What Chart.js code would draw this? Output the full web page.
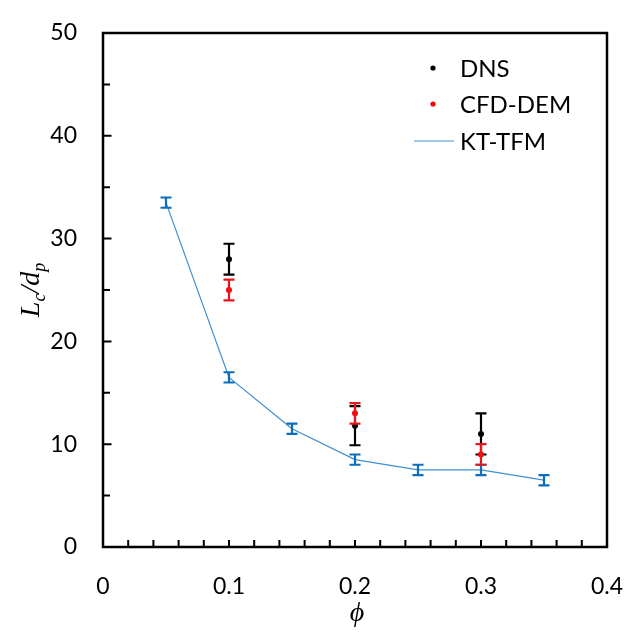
<!DOCTYPE html>
<html>
<head>
<meta charset="utf-8">
<script src="https://cdn.jsdelivr.net/npm/chart.js@4.4.1/dist/chart.umd.min.js"></script>
<style>
  html, body { margin: 0; padding: 0; background: #fff; }
  #wrap { width: 639px; height: 634px; }
</style>
</head>
<body>
<div id="wrap"><canvas id="myChart" width="639" height="634"></canvas></div>
<script>
// values
const phiKT = [0.05, 0.1, 0.15, 0.2, 0.25, 0.3, 0.35];
const lcKT  = [33.5, 16.5, 11.5, 8.5, 7.5, 7.5, 6.5];
const errKT = [0.5, 0.5, 0.5, 0.5, 0.5, 0.5, 0.5];

const phiDNS = [0.1, 0.2, 0.3];
const lcDNS  = [28, 11.8, 11];
const errDNS = [1.5, 1.9, 2];

const phiCFD = [0.1, 0.2, 0.3];
const lcCFD  = [25, 13, 9];
const errCFD = [1, 1, 1];

const xTicks = [0, 0.1, 0.2, 0.3, 0.4];
const yTicks = [0, 10, 20, 30, 40, 50];

const tickFont = { family: 'Lato', size: 23 };

function toPoints(xs, ys) {
    let pts = [];
    for (let i = 0; i < xs.length; i++) pts.push({ x: xs[i], y: ys[i] });
    return pts;
}

// error bars, drawn right after each dataset
const errorBars = {
    id: 'errorBars',
    afterDatasetDraw(chart, args) {
        const ds = chart.data.datasets[args.index];
        if (!ds.errors) return;
        const ctx = chart.ctx;
        const xs = chart.scales.x, ys = chart.scales.y;
        ctx.save();
        ctx.strokeStyle = ds.errorColor;
        ctx.lineWidth = 2.2;
        for (let i = 0; i < ds.data.length; i++) {
            const p = ds.data[i];
            const px = xs.getPixelForValue(p.x);
            const top = ys.getPixelForValue(p.y + ds.errors[i]);
            const bot = ys.getPixelForValue(p.y - ds.errors[i]);
            ctx.beginPath();
            ctx.moveTo(px, top); ctx.lineTo(px, bot);
            ctx.moveTo(px - 5.5, top); ctx.lineTo(px + 5.5, top);
            ctx.moveTo(px - 5.5, bot); ctx.lineTo(px + 5.5, bot);
            ctx.stroke();
        }
        ctx.restore();
    }
};

// frame, inward ticks, legend and axis titles
const decorations = {
    id: 'decorations',
    afterDraw(chart) {
        const ctx = chart.ctx;
        const a = chart.chartArea;
        const xs = chart.scales.x, ys = chart.scales.y;
        ctx.save();
        ctx.strokeStyle = '#000';
        ctx.lineWidth = 2.5;
        ctx.strokeRect(a.left, a.top, a.right - a.left, a.bottom - a.top);

        ctx.lineWidth = 2;
        ctx.beginPath();
        for (let v = 0.02; v < 0.399; v += 0.02) {
            const px = xs.getPixelForValue(v);
            ctx.moveTo(px, a.bottom); ctx.lineTo(px, a.bottom - 7);
        }
        for (let v = 5; v < 50; v += 5) {
            const py = ys.getPixelForValue(v);
            ctx.moveTo(a.left, py); ctx.lineTo(a.left + (v % 10 === 0 ? 8.5 : 7), py);
        }
        ctx.stroke();

        // legend
        const items = chart.data.datasets;
        const rows = [68, 104, 141];
        ctx.font = '24px Lato';
        ctx.textBaseline = 'middle';
        ctx.textAlign = 'left';
        const order = ['DNS', 'CFD-DEM', 'KT-TFM'];
        order.forEach(function(name, r) {
            const ds = items.find(d => d.label === name);
            const y = rows[r];
            if (ds.showLine) {
                ctx.strokeStyle = ds.borderColor;
                ctx.lineWidth = 1.2;
                ctx.beginPath();
                ctx.moveTo(414, y); ctx.lineTo(454, y);
                ctx.stroke();
            } else {
                ctx.fillStyle = ds.backgroundColor;
                ctx.beginPath();
                ctx.arc(433, y, 2.6, 0, Math.PI * 2);
                ctx.fill();
            }
            ctx.fillStyle = '#000';
            ctx.fillText(name, 460, y + 1);
        });

        // x title
        ctx.font = 'italic 28px "Liberation Serif"';
        ctx.textAlign = 'center';
        ctx.fillText('\u03d5', (a.left + a.right) / 2 + 2, 614);

        // y title with subscripts
        const cy = (a.top + a.bottom) / 2;
        ctx.translate(30, cy);
        ctx.rotate(-Math.PI / 2);
        const big = 'italic 28px "Liberation Serif"', small = 'italic 18px "Liberation Serif"';
        const parts = [['L', big, 0], ['c', small, 6], ['/', big, 0], ['d', big, 0], ['p', small, 6]];
        let total = 0;
        parts.forEach(function(p) { ctx.font = p[1]; total += ctx.measureText(p[0]).width; });
        let x = -total / 2;
        ctx.textAlign = 'left';
        ctx.textBaseline = 'alphabetic';
        parts.forEach(function(p) {
            ctx.font = p[1];
            ctx.fillText(p[0], x, 9 + p[2]);
            x += ctx.measureText(p[0]).width;
        });
        ctx.restore();
    }
};

const ctx = document.getElementById('myChart').getContext('2d');
const chart = new Chart(ctx, {
    type: 'scatter',
    data: {
        datasets: [{
            label: 'CFD-DEM',
            data: toPoints(phiCFD, lcCFD),
            errors: errCFD,
            errorColor: '#e8161b',
            backgroundColor: '#ff0000',
            borderColor: '#ff0000',
            pointRadius: 3,
            pointBorderWidth: 0,
            order: 1
        }, {
            label: 'DNS',
            data: toPoints(phiDNS, lcDNS),
            errors: errDNS,
            errorColor: '#000000',
            backgroundColor: '#000000',
            borderColor: '#000000',
            pointRadius: 3,
            pointBorderWidth: 0,
            order: 2
        }, {
            label: 'KT-TFM',
            data: toPoints(phiKT, lcKT),
            errors: errKT,
            errorColor: '#0b6dbb',
            showLine: true,
            borderColor: '#3f8fd2',
            borderWidth: 1.2,
            backgroundColor: '#3f8fd2',
            pointRadius: 0,
            order: 3
        }]
    },
    options: {
        responsive: false,
        animation: false,
        layout: { padding: { left: 0, top: 33, right: 32, bottom: 0 } },
        plugins: {
            legend: { display: false },
            tooltip: { enabled: false }
        },
        scales: {
            x: {
                type: 'linear',
                min: 0, max: 0.4,
                // fixed size, no label overflow so the plot box stays put
                afterFit: function(s) { s.height = 87; s.paddingLeft = 0; s.paddingRight = 0; },
                afterBuildTicks: function(s) { s.ticks = xTicks.map(v => ({ value: v })); },
                grid: { display: false, drawTicks: false },
                border: { display: false },
                ticks: {
                    padding: 26,
                    color: '#000',
                    font: tickFont,
                    callback: v => String(+v.toFixed(1))
                }
            },
            y: {
                type: 'linear',
                min: 0, max: 50,
                afterFit: function(s) { s.width = 103; s.paddingTop = 0; s.paddingBottom = 0; },
                afterBuildTicks: function(s) { s.ticks = yTicks.map(v => ({ value: v })); },
                grid: { display: false, drawTicks: false },
                border: { display: false },
                ticks: {
                    padding: 26,
                    color: '#000',
                    font: tickFont,
                    callback: v => String(v)
                }
            }
        }
    },
    plugins: [errorBars, decorations]
});
</script>
</body>
</html>
